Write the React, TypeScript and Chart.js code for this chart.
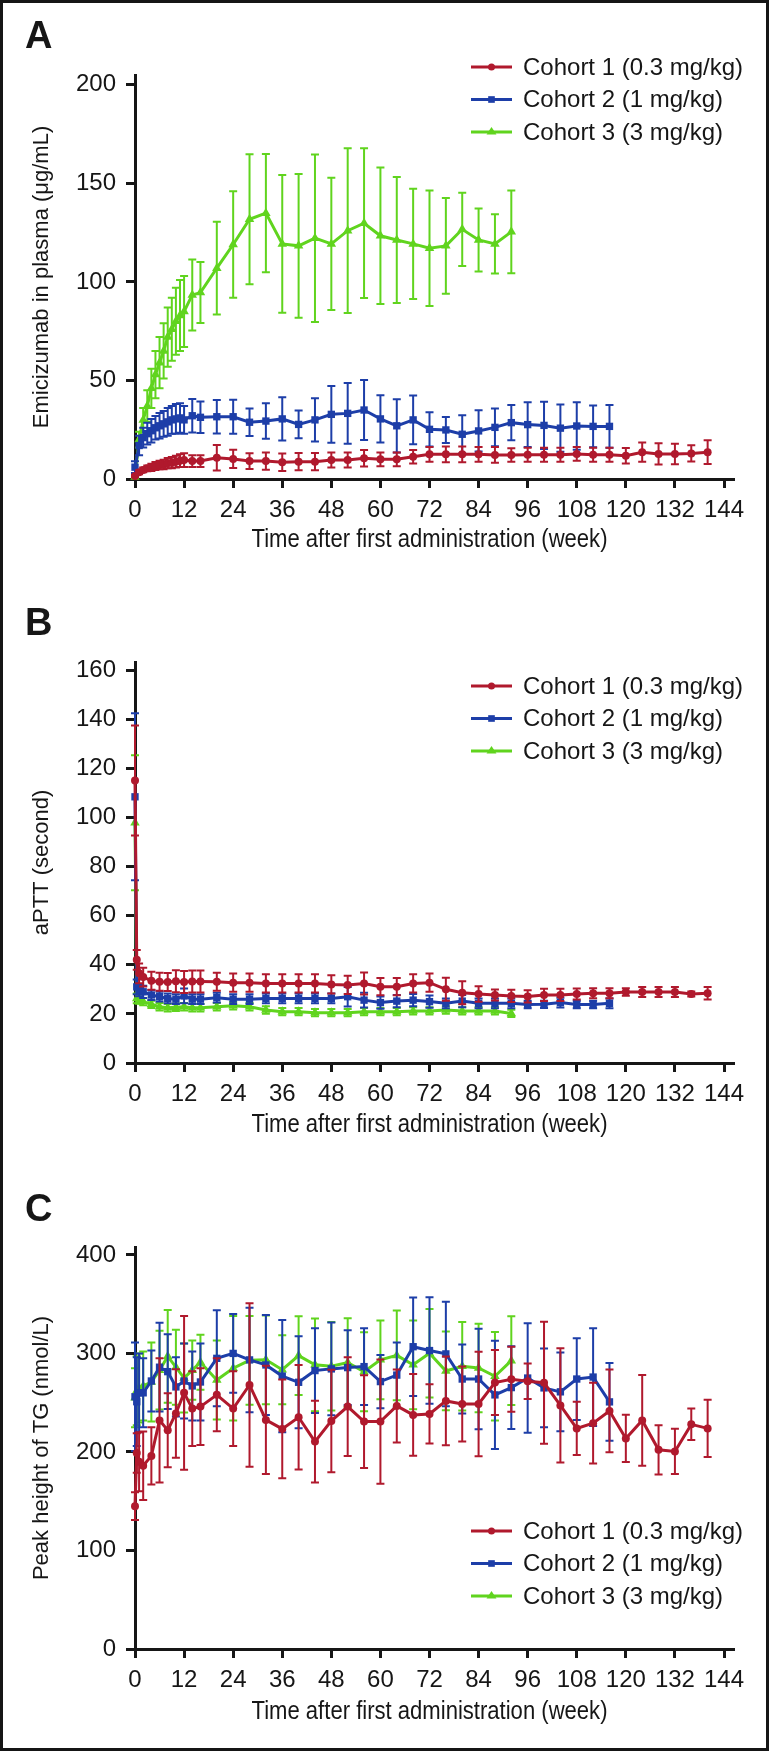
import React, { useEffect, useRef } from "react";
import { Chart, registerables } from "chart.js";

Chart.register(...registerables);

const FONT = "'Liberation Sans', 'Helvetica Neue', Helvetica, Arial, sans-serif";
const INK = "#161616";
const RED = "#B0192D";
const BLUE = "#1D3EA8";
const GREEN = "#60D41E";

const LABELS = ["Cohort 1 (0.3 mg/kg)", "Cohort 2 (1 mg/kg)", "Cohort 3 (3 mg/kg)"];
const X_TICKS = [0, 12, 24, 36, 48, 60, 72, 84, 96, 108, 120, 132, 144];
const X_TITLE = "Time after first administration (week)";

// ---------- Panel A: plasma concentration ----------
const weeksA1 = [0, 1, 2, 3, 4, 5, 6, 7, 8, 9, 10, 11, 12, 14, 16, 20, 24, 28, 32, 36, 40, 44, 48, 52, 56, 60, 64, 68, 72, 76, 80, 84, 88, 92, 96, 100, 104, 108, 112, 116, 120, 124, 128, 132, 136, 140];
const weeksA2 = [0, 1, 2, 3, 4, 5, 6, 7, 8, 9, 10, 11, 12, 14, 16, 20, 24, 28, 32, 36, 40, 44, 48, 52, 56, 60, 64, 68, 72, 76, 80, 84, 88, 92, 96, 100, 104, 108, 112, 116];
const weeksA3 = [0, 1, 2, 3, 4, 5, 6, 7, 8, 9, 10, 11, 12, 14, 16, 20, 24, 28, 32, 36, 40, 44, 48, 52, 56, 60, 64, 68, 72, 76, 80, 84, 88, 92];

const concC1 = [1.5, 3.4, 4.6, 5.4, 5.9, 6.6, 7.1, 7.4, 8.0, 8.3, 8.8, 9.3, 9.6, 9.1, 9.1, 10.8, 10.2, 9.1, 9.1, 8.5, 8.8, 8.8, 9.6, 9.6, 10.5, 10.0, 10.0, 11.3, 12.5, 12.5, 12.5, 12.5, 12.2, 12.2, 12.3, 12.3, 12.3, 12.7, 12.3, 12.3, 11.8, 13.6, 12.7, 12.7, 13.0, 13.6];
const concC1Sd = [0.5, 1, 1.2, 1.5, 1.8, 2, 2.2, 2.4, 2.6, 2.8, 3, 3.2, 3.5, 3, 3, 6.5, 4.6, 4, 4.4, 4.4, 4.4, 4.4, 3.8, 3.8, 4.2, 3.5, 3.5, 3.4, 3.8, 4, 4, 3.8, 4, 3.4, 3.5, 3.5, 3.5, 3.5, 3.5, 3.5, 3.9, 4.9, 5.4, 5.2, 4.1, 6];
const concC2 = [6, 17, 21, 23, 24.5, 26, 27, 28, 29, 30, 30.5, 31, 30, 32.1, 31.3, 31.6, 31.6, 28.8, 29.4, 30.5, 27.7, 30.0, 32.8, 33.3, 35.0, 30.5, 27.0, 30.0, 25.2, 24.9, 22.7, 24.4, 26.2, 28.6, 27.6, 27.2, 25.8, 26.9, 26.7, 26.7];
const concC2Sd = [3, 5, 5, 5.5, 6, 6, 6.5, 6.5, 7, 7, 7.5, 7.5, 7, 8.5, 8, 8.5, 8.6, 7, 9, 11, 7, 11, 14.4, 15.4, 15.2, 12, 13.5, 12.4, 8.7, 6.6, 9.7, 10.5, 9.6, 9, 11.3, 12, 12, 12, 10.6, 10.9];
const concC3 = [1, 20, 30, 37, 46, 53, 59, 65, 72, 76, 80, 83, 85, 93.4, 94.6, 107, 119, 131.8, 134.9, 119.3, 118.3, 122.2, 119.3, 126, 129.8, 123.4, 121.3, 119.3, 117.1, 118.3, 126.7, 121.3, 119.3, 125.4];
const concC3Sd = [0.5, 4, 6, 8, 10, 12, 13, 14, 15, 16, 17, 18, 18, 18, 15.5, 23.5, 27, 33, 30, 35, 36.5, 42.5, 33.5, 41.8, 38, 34.6, 32, 28, 29.3, 24.3, 18.6, 16, 15, 21];

// ---------- Panels B and C: visit weeks ----------
const weeksB1 = [0, 0.43, 1, 2, 4, 6, 8, 10, 12, 14, 16, 20, 24, 28, 32, 36, 40, 44, 48, 52, 56, 60, 64, 68, 72, 76, 80, 84, 88, 92, 96, 100, 104, 108, 112, 116, 120, 124, 128, 132, 136, 140];
const weeksB2 = [0, 0.43, 1, 2, 4, 6, 8, 10, 12, 14, 16, 20, 24, 28, 32, 36, 40, 44, 48, 52, 56, 60, 64, 68, 72, 76, 80, 84, 88, 92, 96, 100, 104, 108, 112, 116];
const weeksB3 = [0, 0.43, 1, 2, 4, 6, 8, 10, 12, 14, 16, 20, 24, 28, 32, 36, 40, 44, 48, 52, 56, 60, 64, 68, 72, 76, 80, 84, 88, 92];

// aPTT (second)
const apttC1 = [115, 42, 36.5, 35, 33.5, 33.1, 33, 33.3, 33, 33.2, 33.2, 33.1, 32.7, 32.7, 32.4, 32.4, 32.4, 32.4, 32, 31.8, 32.4, 31.1, 31.1, 32.4, 32.7, 30, 28.6, 28.1, 27.7, 27.3, 27.1, 27.7, 27.7, 28.1, 28.4, 28.4, 28.9, 28.9, 28.9, 28.9, 28.1, 28.4];
const apttC1Sd = [22.4, 4, 4, 3.8, 3.7, 3.7, 3.7, 4.5, 4.5, 4.5, 4.5, 3.7, 3.7, 3.7, 3.7, 3.7, 3.7, 3.7, 3.7, 3.7, 4.5, 3.5, 3.5, 3.7, 3.7, 4.7, 4.7, 3.2, 2.2, 2.5, 2.5, 2.5, 2.5, 2.2, 2, 2, 1.5, 2, 2, 2, 1, 2.5];
const apttC2 = [108.4, 31, 29.7, 29, 27.7, 27, 26.3, 26, 27.3, 26, 26, 26.6, 26, 26, 26.3, 26.3, 26.3, 26.3, 26.3, 27, 25.6, 24.6, 25.2, 25.6, 25, 24.3, 25.2, 24.3, 24.3, 24.3, 23.8, 23.9, 24.6, 23.8, 23.8, 24.3];
const apttC2Sd = [34, 3, 2.5, 2.5, 2, 2, 2, 2, 3, 2, 2, 2, 2, 2, 2, 2, 2, 2, 2, 4, 3, 2.5, 2.5, 2.5, 2.5, 2, 2.5, 2, 2, 2, 1.5, 1.5, 2, 1.5, 1.5, 2];
const apttC3 = [97.8, 26.3, 25.6, 25, 23.9, 22.9, 22.5, 22.7, 22.9, 22.5, 22.5, 22.9, 23.3, 22.9, 21.6, 20.9, 20.9, 20.5, 20.5, 20.5, 20.9, 20.9, 20.9, 21.2, 21.2, 21.6, 21.2, 21.2, 21.2, 20.2];
const apttC3Sd = [27.5, 2, 1.5, 1.5, 1.5, 1.5, 1.5, 1.5, 1.5, 1.5, 1.5, 1.5, 1.5, 1.5, 1.5, 1.5, 1.5, 1.5, 1.5, 1.5, 1.5, 1.5, 1.5, 1.5, 1.5, 1.5, 1.5, 1.5, 1.5, 1.5];

// Peak height of thrombin generation (nmol/L)
const tgC1 = [145, 199, 190, 186, 196, 232, 222, 239, 260, 244, 246, 258, 244, 268, 232.5, 223.4, 235.2, 210.5, 231.5, 246, 230.8, 230.8, 246.7, 237.6, 238.6, 251.8, 248.7, 248.7, 270.4, 273.8, 271.8, 270.2, 247.2, 223.9, 229.2, 241.6, 213.7, 232, 202.2, 200.5, 228, 223.9];
const tgC1Sd = [14, 20, 30, 34.7, 29, 63, 37.5, 45, 78, 38, 39, 37, 38, 83, 55, 50, 53, 41.5, 52, 50, 47, 63, 37, 41.5, 30, 45, 38, 53, 33, 33, 18, 62, 58, 27, 41, 42, 24, 46, 25, 23, 16, 29];
const tgC2 = [256, 251, 260, 260, 272, 286, 281.5, 266, 272, 267, 271, 295, 300, 293.4, 288.3, 277, 270.7, 282.6, 284.3, 285.6, 286.6, 271.4, 278, 306.8, 302.9, 299.5, 274, 274, 257.9, 265.3, 275, 265, 261, 274, 276, 250.8];
const tgC2Sd = [55, 45, 40, 35, 31, 45, 38, 30, 38, 35, 39, 48.7, 40, 53, 50.7, 57, 46.7, 43, 47, 38, 39, 27, 33, 50, 54, 53, 35, 51, 55, 42, 55.6, 40, 40, 41.5, 49.6, 39.5];
const tgC3 = [255, 262, 265, 267, 271, 283, 297, 286, 275, 283, 291, 273, 285, 293, 293.5, 283.5, 297.8, 288.4, 287, 290.7, 281.4, 293.5, 298, 288.4, 300.2, 282.2, 287, 285.2, 276.8, 292.6];
const tgC3Sd = [30, 35, 35, 35, 40, 40, 47, 38, 35, 30, 28, 40, 53, 45, 45, 35, 40, 47, 45, 45, 40, 40, 45.5, 45, 45, 40, 45, 45, 45, 45];

type Series = { x: number[]; y: number[]; sd: number[] };
type Panel = {
  letter: string;
  yTitle: string;
  yMax: number;
  yTicks: number[];
  canvasTop: number;
  canvasH: number;
  padTop: number;
  legendY: number;
  letterY: number;
  xTitleY: number;
  series: Series[];
};

const COLORS = [RED, BLUE, GREEN];
const STYLES = ["circle", "rect", "triangle"];
const RADII = [4, 5.2, 5.5];

const PANELS: Panel[] = [
  {
    letter: "A",
    yTitle: "Emicizumab in plasma (\u03bcg/mL)",
    yMax: 205,
    yTicks: [0, 50, 100, 150, 200],
    canvasTop: 0,
    canvasH: 584,
    padTop: 75,
    legendY: 67,
    letterY: 38,
    xTitleY: 540,
    series: [
      { x: weeksA1, y: concC1, sd: concC1Sd },
      { x: weeksA2, y: concC2, sd: concC2Sd },
      { x: weeksA3, y: concC3, sd: concC3Sd },
    ],
  },
  {
    letter: "B",
    yTitle: "aPTT (second)",
    yMax: 163.3,
    yTicks: [0, 20, 40, 60, 80, 100, 120, 140, 160],
    canvasTop: 584,
    canvasH: 584,
    padTop: 78,
    legendY: 102,
    letterY: 41,
    xTitleY: 541,
    series: [
      { x: weeksB1, y: apttC1, sd: apttC1Sd },
      { x: weeksB2, y: apttC2, sd: apttC2Sd },
      { x: weeksB3, y: apttC3, sd: apttC3Sd },
    ],
  },
  {
    letter: "C",
    yTitle: "Peak height of TG (nmol/L)",
    yMax: 408,
    yTicks: [0, 100, 200, 300, 400],
    canvasTop: 1170,
    canvasH: 582,
    padTop: 77,
    legendY: 361,
    letterY: 41,
    xTitleY: 542,
    series: [
      { x: weeksB1, y: tgC1, sd: tgC1Sd },
      { x: weeksB2, y: tgC2, sd: tgC2Sd },
      { x: weeksB3, y: tgC3, sd: tgC3Sd },
    ],
  },
];

function drawMarker(ctx: CanvasRenderingContext2D, style: string, x: number, y: number, r: number) {
  ctx.beginPath();
  if (style === "circle") {
    ctx.arc(x, y, r, 0, Math.PI * 2);
  } else if (style === "rect") {
    const s = r * Math.SQRT1_2;
    ctx.rect(x - s, y - s, 2 * s, 2 * s);
  } else {
    const h = r * 1.5;
    ctx.moveTo(x, y - r);
    ctx.lineTo(x + h / Math.sqrt(3) * 1.15, y + r * 0.5);
    ctx.lineTo(x - h / Math.sqrt(3) * 1.15, y + r * 0.5);
    ctx.closePath();
  }
  ctx.fill();
}

const errorBarPlugin = {
  id: "errorBars",
  beforeDatasetDraw(chart: any, args: any) {
    const ds = chart.data.datasets[args.index];
    const errs: number[] | undefined = ds.errs;
    if (!errs) return;
    const xs = chart.scales.x;
    const ys = chart.scales.y;
    const ctx: CanvasRenderingContext2D = chart.ctx;
    ctx.save();
    ctx.strokeStyle = ds.borderColor;
    ctx.lineWidth = 2;
    ds.data.forEach((p: { x: number; y: number }, j: number) => {
      const e = errs[j];
      if (!e) return;
      const px = xs.getPixelForValue(p.x);
      const yTop = ys.getPixelForValue(p.y + e);
      const yBot = ys.getPixelForValue(Math.max(p.y - e, 0));
      ctx.beginPath();
      ctx.moveTo(px, yTop);
      ctx.lineTo(px, yBot);
      ctx.moveTo(px - 4, yTop);
      ctx.lineTo(px + 4, yTop);
      ctx.moveTo(px - 4, yBot);
      ctx.lineTo(px + 4, yBot);
      ctx.stroke();
    });
    ctx.restore();
  },
};

function makeDecorPlugin(panel: Panel) {
  return {
    id: "decor" + panel.letter,
    afterDraw(chart: any) {
      const ctx: CanvasRenderingContext2D = chart.ctx;
      const area = chart.chartArea;
      const xs = chart.scales.x;
      ctx.save();
      // panel letter
      ctx.fillStyle = INK;
      ctx.font = `bold 38px ${FONT}`;
      ctx.textAlign = "left";
      ctx.textBaseline = "middle";
      ctx.fillText(panel.letter, 25, panel.letterY);
      // condensed x-axis title
      ctx.font = `25px ${FONT}`;
      const w = ctx.measureText(X_TITLE).width;
      const sx = 356 / w;
      const cx = (xs.getPixelForValue(0) + xs.getPixelForValue(144)) / 2;
      ctx.translate(cx, panel.xTitleY);
      ctx.scale(sx, 1);
      ctx.textAlign = "center";
      ctx.fillText(X_TITLE, 0, 0);
      ctx.setTransform(1, 0, 0, 1, 0, 0);
      // legend
      ctx.font = `24px ${FONT}`;
      ctx.textAlign = "left";
      chart.data.datasets.forEach((ds: any, i: number) => {
        const y = panel.legendY + i * 32.5;
        ctx.strokeStyle = ds.borderColor;
        ctx.fillStyle = ds.borderColor;
        ctx.lineWidth = 3;
        ctx.beginPath();
        ctx.moveTo(471, y);
        ctx.lineTo(512, y);
        ctx.stroke();
        drawMarker(ctx, STYLES[i], 491.5, y, RADII[i] - 0.5);
        ctx.fillStyle = INK;
        ctx.fillText(ds.label, 523, y + 1);
      });
      ctx.restore();
      void area;
    },
  };
}

function PanelChart({ panel }: { panel: Panel }) {
  const ref = useRef<HTMLCanvasElement | null>(null);
  useEffect(() => {
    if (!ref.current) return;
    const xAxisH = panel.canvasH - 479;
    const chart = new Chart(ref.current, {
      type: "line",
      data: {
        datasets: panel.series.map((s, i) => ({
          label: LABELS[i],
          data: s.x.map((t, j) => ({ x: t, y: s.y[j] })),
          errs: s.sd,
          borderColor: COLORS[i],
          backgroundColor: COLORS[i],
          pointBackgroundColor: COLORS[i],
          pointBorderColor: COLORS[i],
          pointBorderWidth: 0,
          pointStyle: STYLES[i],
          pointRadius: RADII[i],
          borderWidth: 3,
          tension: 0,
          order: i,
          clip: false,
        })) as any,
      },
      options: {
        animation: false,
        responsive: false,
        maintainAspectRatio: false,
        devicePixelRatio: 1,
        events: [],
        layout: { padding: { left: 0, top: panel.padTop, right: 40, bottom: 0 } },
        plugins: {
          legend: { display: false },
          tooltip: { enabled: false },
        },
        scales: {
          x: {
            type: "linear",
            min: 0,
            max: 146.2,
            afterBuildTicks: (scale: any) => {
              scale.ticks = X_TICKS.map((v) => ({ value: v }));
            },
            afterFit: (scale: any) => {
              scale.height = xAxisH;
            },
            grid: {
              display: true,
              drawOnChartArea: false,
              drawTicks: true,
              tickLength: 9,
              tickWidth: 3,
              lineWidth: 3,
              tickColor: INK,
              color: INK,
            },
            border: { display: true, width: 3, color: INK },
            ticks: {
              font: { family: FONT, size: 24 },
              color: INK,
              padding: 8,
              maxRotation: 0,
              autoSkip: false,
            },
          },
          y: {
            type: "linear",
            min: 0,
            max: panel.yMax,
            afterBuildTicks: (scale: any) => {
              scale.ticks = panel.yTicks.map((v) => ({ value: v }));
            },
            afterFit: (scale: any) => {
              scale.width = 135;
            },
            grid: {
              display: true,
              drawOnChartArea: false,
              drawTicks: true,
              tickLength: 9,
              tickWidth: 3,
              lineWidth: 3,
              tickColor: INK,
              color: INK,
            },
            border: { display: true, width: 3, color: INK },
            ticks: {
              font: { family: FONT, size: 24 },
              color: INK,
              padding: 10,
              autoSkip: false,
            },
            title: {
              display: true,
              text: panel.yTitle,
              font: { family: FONT, size: 22 },
              color: INK,
              padding: { top: 29, bottom: 0 },
            },
          },
        },
      } as any,
      plugins: [errorBarPlugin, makeDecorPlugin(panel)],
    });
    return () => chart.destroy();
  }, [panel]);
  return (
    <canvas
      ref={ref}
      width={773}
      height={panel.canvasH}
      style={{ position: "absolute", left: 0, top: panel.canvasTop, width: 773, height: panel.canvasH }}
    />
  );
}

export default function App() {
  return (
    <div style={{ position: "absolute", left: 0, top: 0, width: 773, height: 1752, background: "#fff", overflow: "hidden" }}>
      {PANELS.map((p) => (
        <PanelChart key={p.letter} panel={p} />
      ))}
      <div
        style={{
          position: "absolute",
          left: 0,
          top: 0,
          width: 769,
          height: 1751,
          border: "3px solid #151515",
          boxSizing: "border-box",
          pointerEvents: "none",
        }}
      />
    </div>
  );
}
